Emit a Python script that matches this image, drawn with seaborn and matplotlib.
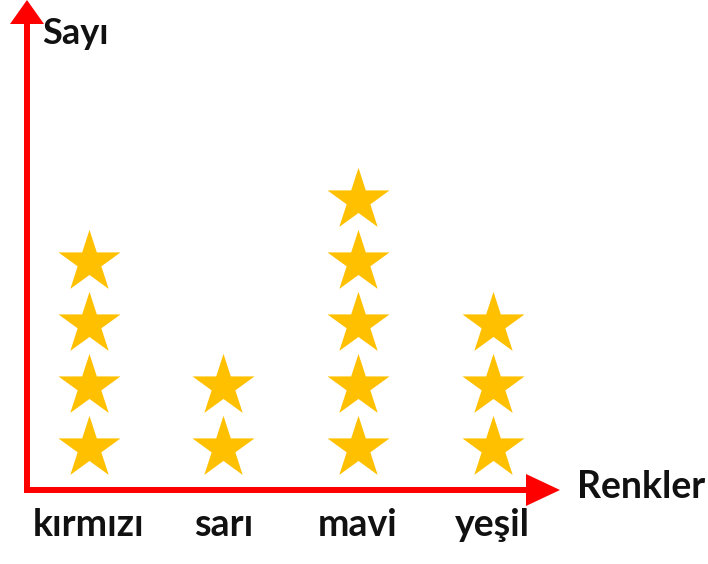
import matplotlib.pyplot as plt
import matplotlib.patches as mpatches
import pandas as pd
import seaborn as sns

# pictograph values: one star per unit
renkler = ["kırmızı", "sarı", "mavi", "yeşil"]
sayilar = [4, 2, 5, 3]

rows = []
for renk, n in zip(renkler, sayilar):
    for i in range(1, n + 1):
        rows.append({"renk": renk, "sira": i})
df = pd.DataFrame(rows)

sns.set_theme(style="white")
plt.rcParams["font.family"] = ["Lato", "DejaVu Sans"]

fig = plt.figure(figsize=(7.08, 5.64), dpi=100)

# background layer in pixel coordinates for the red axis arrows
bg = fig.add_axes([0, 0, 1, 1])
bg.set_xlim(0, 708)
bg.set_ylim(564, 0)
bg.axis("off")
bg.add_patch(mpatches.FancyArrow(27, 493, 0, -493, width=6, head_width=34, head_length=24,
                                 length_includes_head=True, color="#ff0000", lw=0))
bg.add_patch(mpatches.FancyArrow(24, 490, 536, 0, width=6, head_width=32, head_length=34,
                                 length_includes_head=True, color="#ff0000", lw=0))
bg.text(42, 33, "Sayı", fontsize=26, fontweight="bold", va="center", ha="left", color="#111111")
bg.text(577, 487, "Renkler", fontsize=27, fontweight="bold", va="center", ha="left", color="#111111")

# data layer
ax = fig.add_axes([28 / 708, (564 - 490) / 564, 497 / 708, 480 / 564])
ax.patch.set_alpha(0)
sns.stripplot(data=df, x="renk", y="sira", order=renkler, jitter=False, marker="*",
              size=47, color="#ffc000", linewidth=0, ax=ax)
ax.set_xlim(-0.45, 3.24)
ax.set_ylim(0.32, 8.06)
for s in ax.spines.values():
    s.set_visible(False)
ax.set_yticks([])
ax.set_xlabel("")
ax.set_ylabel("")
ax.tick_params(axis="x", length=0, pad=13, labelsize=27, labelcolor="#111111")
for lab in ax.get_xticklabels():
    lab.set_fontweight("bold")

fig.savefig("out.png", dpi=100)
